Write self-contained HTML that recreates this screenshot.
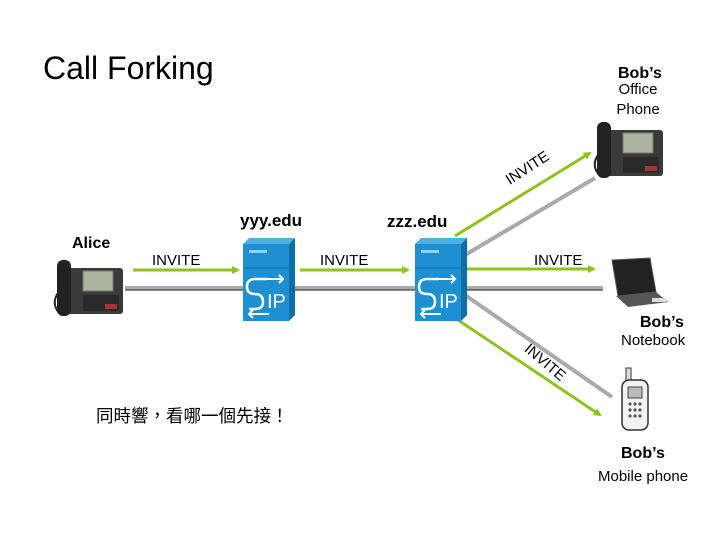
<!DOCTYPE html>
<html><head><meta charset="utf-8"><style>
html,body{margin:0;padding:0;background:#fff;}
svg{display:block;}
text{font-family:"Liberation Sans","Noto Sans CJK TC",sans-serif;fill:#000;}
</style></head><body>
<svg width="720" height="540" viewBox="0 0 720 540" xmlns="http://www.w3.org/2000/svg">
<defs>
<marker id="ga" markerWidth="8" markerHeight="8" refX="6" refY="4" orient="auto" markerUnits="userSpaceOnUse"><path d="M0,0 L8,4 L0,8 z" fill="#8dc21f"/></marker>
<g id="phone">
<rect x="12" y="10" width="58" height="46" rx="3" fill="#3a3a3a"/>
<rect x="30" y="13" width="30" height="20" fill="#aab4a0" stroke="#777" stroke-width="1"/>
<rect x="30" y="37" width="36" height="16" fill="#2a2a2a"/>
<rect x="52" y="46" width="12" height="5" fill="#a33"/>
<rect x="4" y="2" width="14" height="56" rx="6" fill="#222"/>
<path d="M5,35 Q-2,45 6,55" stroke="#222" stroke-width="2" fill="none"/>
</g>
<g id="server">
<path d="M0,6 L6,0 L52,0 L46,6 z" fill="#4fb0e0"/>
<path d="M46,6 L52,0 L52,77 L46,83 z" fill="#0b6fa8"/>
<rect x="0" y="6" width="46" height="77" fill="#1e8fd0"/>
<line x1="0" y1="30" x2="46" y2="30" stroke="#0b6fa8" stroke-width="1"/>
<rect x="6" y="12" width="18" height="3" fill="#8fd3f5"/>
<path d="M24,41 L12,41 Q4,41 4,49 Q4,56 12,56 Q20,56 20,64 Q20,71 12,71 L6,71" stroke="#fff" stroke-width="2.5" fill="none"/>
<path d="M20,41 L40,41 M36,37 L40,41 L36,45" stroke="#fff" stroke-width="2" fill="none"/>
<path d="M26,76 L6,76 M10,72 L6,76 L10,80" stroke="#fff" stroke-width="2" fill="none"/>
<text x="24" y="70" font-size="20" fill="#fff" style="fill:#fff">IP</text>
</g>
</defs>

<line x1="125" y1="288" x2="603" y2="288" stroke="#aaa" stroke-width="4"/>
<line x1="125" y1="290" x2="603" y2="290" stroke="#222" stroke-width="1"/>
<line x1="465" y1="255" x2="595" y2="178" stroke="#aaa" stroke-width="4"/>
<line x1="465" y1="295" x2="612" y2="397" stroke="#aaa" stroke-width="4"/>
<line x1="133" y1="270" x2="238" y2="270" stroke="#8dc21f" stroke-width="3" marker-end="url(#ga)"/>
<line x1="300" y1="270" x2="408" y2="270" stroke="#8dc21f" stroke-width="3" marker-end="url(#ga)"/>
<line x1="467" y1="269" x2="594" y2="269" stroke="#8dc21f" stroke-width="3" marker-end="url(#ga)"/>
<line x1="455" y1="236" x2="590" y2="153" stroke="#8dc21f" stroke-width="3" marker-end="url(#ga)"/>
<line x1="455" y1="318" x2="600" y2="415" stroke="#8dc21f" stroke-width="3" marker-end="url(#ga)"/>

<use href="#server" x="243" y="238"/>
<use href="#server" x="415" y="238"/>
<use href="#phone" x="53" y="258"/>
<use href="#phone" x="593" y="120"/>

<path d="M612,260 L650,258 L656,292 L618,296 z" fill="#222" stroke="#555"/>
<path d="M616,296 L656,292 L668,302 L628,307 z" fill="#555"/>
<rect x="652" y="298" width="14" height="4" fill="#ddd"/>
<rect x="626" y="368" width="5" height="14" fill="#ddd" stroke="#333"/>
<rect x="622" y="380" width="26" height="50" rx="7" fill="#f2f2f2" stroke="#333" stroke-width="1.5"/>
<rect x="628" y="387" width="14" height="11" fill="#bbb" stroke="#444"/>
<g fill="#555"><circle cx="630" cy="404" r="1.6"/><circle cx="635" cy="404" r="1.6"/><circle cx="640" cy="404" r="1.6"/><circle cx="630" cy="410" r="1.6"/><circle cx="635" cy="410" r="1.6"/><circle cx="640" cy="410" r="1.6"/><circle cx="630" cy="416" r="1.6"/><circle cx="635" cy="416" r="1.6"/><circle cx="640" cy="416" r="1.6"/></g>

<text x="43" y="79" font-size="32">Call Forking</text>
<text x="618" y="78" font-size="16" font-weight="bold">Bob’s</text>
<text x="638" y="94" font-size="15" text-anchor="middle">Office</text>
<text x="638" y="114" font-size="15" text-anchor="middle">Phone</text>
<text x="72" y="248" font-size="16" font-weight="bold">Alice</text>
<text x="240" y="226" font-size="17" font-weight="bold">yyy.edu</text>
<text x="387" y="227" font-size="17" font-weight="bold">zzz.edu</text>
<text x="152" y="265" font-size="15">INVITE</text>
<text x="320" y="265" font-size="15">INVITE</text>
<text x="534" y="265" font-size="15">INVITE</text>
<text transform="translate(530,172) rotate(-33)" font-size="15" text-anchor="middle">INVITE</text>
<text transform="translate(542,366) rotate(40)" font-size="15" text-anchor="middle">INVITE</text>
<text x="640" y="327" font-size="16" font-weight="bold">Bob’s</text>
<text x="621" y="345" font-size="15">Notebook</text>
<text x="96" y="422" font-size="17.5">同時響，看哪一個先接！</text>
<text x="621" y="458" font-size="16" font-weight="bold">Bob’s</text>
<text x="598" y="481" font-size="15">Mobile phone</text>
</svg>
</body></html>
